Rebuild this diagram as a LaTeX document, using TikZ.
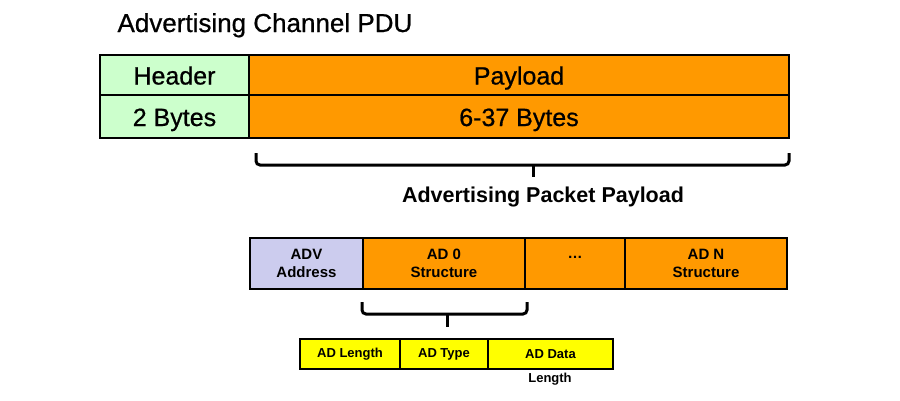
\documentclass[tikz,border=0pt]{standalone}
\usepackage{fontspec}
\setmainfont{Liberation Sans}
\newfontfamily\heavyfont[FakeBold=0.7]{Liberation Sans}
\definecolor{hdrgreen}{HTML}{CCFFCC}
\definecolor{payorange}{HTML}{FF9900}
\definecolor{advlav}{HTML}{CCCCEE}
\definecolor{adyellow}{HTML}{FFFF00}
\begin{document}
\begin{tikzpicture}[x=1pt,y=-1pt,
  cell/.style={draw=black,line width=1.8pt,inner sep=0pt,outer sep=0pt,anchor=north west,align=center},
  bigtxt/.style={font=\heavyfont\fontsize{25}{28}\selectfont,text height=19pt,text depth=-1pt},
  midtxt/.style={font=\bfseries\fontsize{15}{18}\selectfont},
  smalltxt/.style={font=\bfseries\fontsize{13}{15}\selectfont},
  bracepath/.style={draw=black,line width=3pt,rounded corners=4pt},
  bracetick/.style={draw=black,line width=3pt}]
\useasboundingbox[fill=white] (0,0) rectangle (900,400);

\node[anchor=base west,font=\heavyfont\fontsize{26}{30}\selectfont] (title) at (114,32) {Advertising Channel PDU};

% top table
\node[cell,bigtxt,fill=hdrgreen,minimum width=149pt,minimum height=40pt] (hdr) at (100,55) {Header};
\node[cell,bigtxt,fill=hdrgreen,minimum width=149pt,minimum height=43pt] (hdrb) at (100,95) {2 Bytes};
\node[cell,bigtxt,fill=payorange,minimum width=540pt,minimum height=40pt] (pay) at (249,55) {Payload};
\node[cell,bigtxt,fill=payorange,minimum width=540pt,minimum height=43pt] (payb) at (249,95) {6-37 Bytes};

% brace 1
\coordinate (b1l) at (256,153);
\coordinate (b1r) at (789,153);
\coordinate (b1m) at (533,165);
\coordinate (b1t) at (533,177);
\draw[bracepath] (b1l) |- (b1m) -| (b1r);
\draw[bracetick] (b1m) -- (b1t);
\node[font=\bfseries\fontsize{21.5}{24}\selectfont] (app) at (543,197) {Advertising Packet Payload};

% second row
\node[cell,midtxt,fill=advlav,minimum width=113pt,minimum height=51pt] (adv) at (250,238) {ADV\\Address};
\node[cell,midtxt,fill=payorange,minimum width=162pt,minimum height=51pt] (ad0) at (363,238) {AD 0\\Structure};
\node[cell,midtxt,fill=payorange,minimum width=100pt,minimum height=51pt] (dots) at (525,238) {\vphantom{Ag}\ldots\\\vphantom{Ag}};
\node[cell,midtxt,fill=payorange,minimum width=162pt,minimum height=51pt] (adn) at (625,238) {AD N\\Structure};

% brace 2
\coordinate (b2l) at (362,302);
\coordinate (b2r) at (527,302);
\coordinate (b2m) at (447,314);
\coordinate (b2t) at (447,327);
\draw[bracepath] (b2l) |- (b2m) -| (b2r);
\draw[bracetick] (b2m) -- (b2t);

% third row
\node[cell,smalltxt,fill=adyellow,minimum width=100pt,minimum height=30pt] (adlen) at (300,339) {AD Length};
\node[cell,smalltxt,fill=adyellow,minimum width=88pt,minimum height=30pt] (adtype) at (400,339) {AD Type};
\node[cell,smalltxt,fill=adyellow,minimum width=125pt,minimum height=30pt] (addata) at (488,339) {AD Data};
\node[smalltxt] (lenlbl) at (550,379) {Length};
\end{tikzpicture}
\end{document}
